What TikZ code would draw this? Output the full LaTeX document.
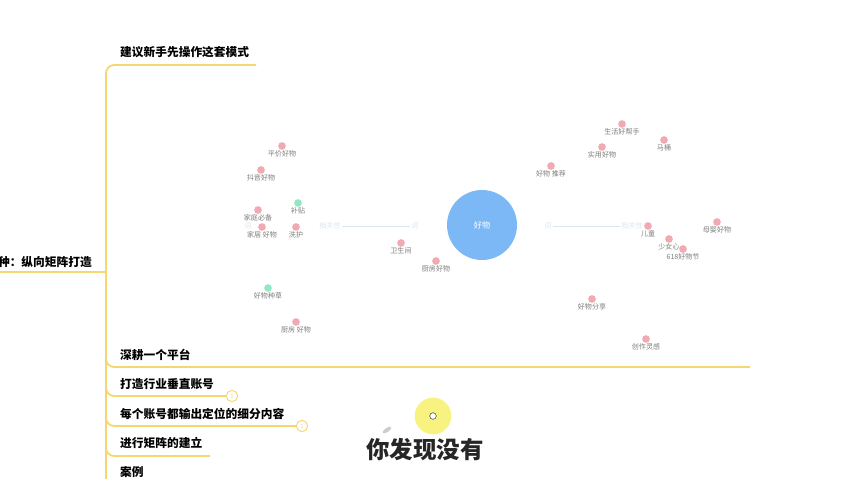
\documentclass[tikz,border=0pt]{standalone}
\usepackage{fontspec}
\setmainfont{Noto Sans CJK SC}
\usetikzlibrary{positioning,shapes.geometric}
\definecolor{branchy}{HTML}{F6D66E}
\definecolor{dotpink}{HTML}{F1A9B2}
\definecolor{dotgreen}{HTML}{93E8C4}
\definecolor{hubblue}{HTML}{7DB8F6}
\definecolor{kwgrey}{HTML}{7E7E7E}
\definecolor{relgrey}{HTML}{DCE6F0}
\definecolor{hilite}{HTML}{F7F06A}

\begin{document}
\begin{tikzpicture}[x=0.03cm, y=-0.03cm,
  br/.style={draw=branchy, line width=1.5pt, rounded corners=7pt},
  topic/.style={font=\bfseries\fontsize{10}{12}\selectfont, anchor=west, inner sep=0pt},
  kwdot/.style={circle, inner sep=0pt, minimum size=2.3mm},
  kwtext/.style={font=\fontsize{6}{7}\selectfont, text=kwgrey, inner sep=0pt},
  reltext/.style={font=\fontsize{6}{7}\selectfont, text=relgrey, inner sep=1pt},
  badge/.style={circle, draw=branchy, fill=white, line width=0.8pt, inner sep=0pt,
    minimum size=3.4mm, font=\fontsize{5}{6}\selectfont, text=branchy}]
\useasboundingbox (0,0) rectangle (850,478);
\clip (0,0) rectangle (850,478);
\fill[white] (0,0) rectangle (850,478);

% trunk and branches
\node[font=\bfseries\fontsize{10}{12}\selectfont, anchor=east, inner sep=0pt] (root) at (92,262) {种：纵向矩阵打造};
\coordinate (j0) at (106,272);
\draw[br] (0,272) -- (j0);
\node[topic] (b1) at (120,52) {建议新手先操作这套模式};
\node[topic] (b2) at (120,355) {深耕一个平台};
\node[topic] (b3) at (120,384) {打造行业垂直账号};
\node[topic] (b4) at (120,414) {每个账号都输出定位的细分内容};
\node[topic] (b5) at (120,443) {进行矩阵的建立};
\node[topic] (b6) at (120,472) {案例};
\node[badge] (n3) at (232,396) {1};
\node[badge] (n4) at (302,426) {1};
\coordinate (u1) at (256,65);
\coordinate (u2) at (750,367);
\coordinate (u5) at (210,456);
\coordinate (u6) at (160,486);
\draw[br] (j0) |- (u1);
\draw[br] (j0) |- (u2);
\draw[br] (j0) |- (n3.west);
\draw[br] (j0) |- (n4.west);
\draw[br] (j0) |- (u5);
\draw[br] (j0) |- (u6);

% keyword map
\node[circle, fill=hubblue, minimum size=2.1cm, text=white, font=\fontsize{7}{8}\selectfont] (hub) at (482,225) {好物};
\node[reltext] (r0) at (248,226) {词};
\node[reltext] (r1) at (330,226) {相关性};
\node[reltext] (r2) at (415,226) {词};
\node[reltext] (r3) at (548,226) {词};
\node[reltext] (r4) at (632,226) {相关性};
\draw[relgrey, line width=0.4pt] (r1) -- (r2);
\draw[relgrey, line width=0.4pt] (r3) -- (r4);
\foreach \x/\y/\t/\c [count=\i] in {
  282/146/平价好物/dotpink, 261/170/抖音好物/dotpink, 298/203/补贴/dotgreen,
  258/210/家庭必备/dotpink, 262/227/家居 好物/dotpink, 296/227/洗护/dotpink,
  401/243/卫生间/dotpink, 436/261/厨房好物/dotpink, 268/288/好物种草/dotgreen,
  296/322/厨房 好物/dotpink, 622/124/生活好帮手/dotpink, 664/140/马桶/dotpink,
  602/147/实用好物/dotpink, 551/166/好物 推荐/dotpink, 648/226/儿童/dotpink,
  717/222/母婴好物/dotpink, 669/239/少女心/dotpink, 683/249/618好物节/dotpink,
  592/299/好物分享/dotpink, 646/339/创作灵感/dotpink} {
  \node[kwdot, fill=\c] (k\i) at (\x,\y) {};
  \node[kwtext, below=1.2mm of k\i.center] (t\i) {\t};
}

% pointer and caption
\node[circle, fill=hilite, opacity=0.85, minimum size=1.1cm, inner sep=0pt] (hl) at (433,416) {};
\node[circle, draw=black!70, fill=white, line width=0.5pt, minimum size=2mm, inner sep=0pt] (cur) at (hl.center) {};
\node[ellipse, fill=black!20, rotate=35, minimum width=3mm, minimum height=1.2mm, inner sep=0pt] (smudge) at (387,430) {};
\node[font=\bfseries\fontsize{20}{24}\selectfont, text=black!85, inner sep=0pt] (cap) at (425,450) {你发现没有};
\end{tikzpicture}
\end{document}
